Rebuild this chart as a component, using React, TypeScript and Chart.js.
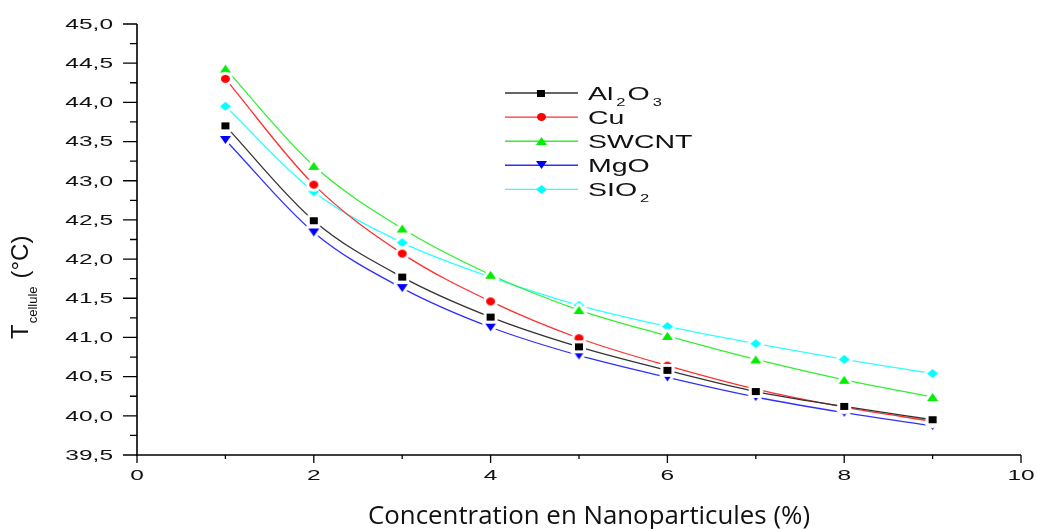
import React, { useEffect, useRef } from 'react';
import { Chart, registerables } from 'chart.js';

Chart.register(...registerables);

const concentrations = [1, 2, 3, 4, 5, 6, 7, 8, 9];
const al2o3 = [43.7, 42.49, 41.77, 41.26, 40.88, 40.58, 40.31, 40.12, 39.95];
const cu = [44.3, 42.95, 42.07, 41.46, 40.99, 40.64, 40.34, 40.11, 39.93];
const swcnt = [44.43, 43.19, 42.39, 41.8, 41.35, 41.02, 40.72, 40.46, 40.24];
const mgo = [43.52, 42.34, 41.63, 41.13, 40.77, 40.49, 40.24, 40.04, 39.87];
const sio2 = [43.95, 42.86, 42.21, 41.77, 41.41, 41.14, 40.92, 40.72, 40.54];

const seriesNames = ['Al2O3', 'Cu', 'SWCNT', 'MgO', 'SIO2'];
const seriesValues = [al2o3, cu, swcnt, mgo, sio2];
const markerColors = ['#000000', '#ff0000', '#00ee00', '#0000ff', '#00ffff'];
const lineColors = ['#333333', '#ff3030', '#30f030', '#3030ff', '#30ffff'];
const markerShapes = ['square', 'circle', 'triangle', 'triangleDown', 'diamond'];

const xTickLabels = ['0', '2', '4', '6', '8', '10'];
const xMinorTicks = [1, 3, 5, 7, 9];
const yTickLabels = ['39,5', '40,0', '40,5', '41,0', '41,5', '42,0', '42,5', '43,0', '43,5', '44,0', '44,5', '45,0'];
const yMinorTicks = [39.75, 40.25, 40.75, 41.25, 41.75, 42.25, 42.75, 43.25, 43.75, 44.25, 44.75];

const xTitle = 'Concentration en Nanoparticules (%)';
const yTitleMain = 'T';
const yTitleSub = 'cellule';
const yTitleUnit = '(°C)';

const SANS = '"Liberation Sans", Arial, sans-serif';

function makeMarker(shape: string, color: string, halo: boolean): HTMLCanvasElement {
  const dims: Record<string, [number, number]> = {
    square: [8, 7],
    circle: [9, 8],
    triangle: [11, 8],
    triangleDown: [11, 8],
    diamond: [11, 9],
  };
  const [w, h] = dims[shape];
  const pad = halo ? 4 : 1;
  const c = document.createElement('canvas');
  c.width = w + pad * 2;
  c.height = h + pad * 2;
  const ctx = c.getContext('2d')!;
  ctx.translate(c.width / 2, c.height / 2);
  const path = () => {
    ctx.beginPath();
    if (shape === 'square') {
      ctx.rect(-w / 2, -h / 2, w, h);
    } else if (shape === 'circle') {
      ctx.ellipse(0, 0, w / 2, h / 2, 0, 0, Math.PI * 2);
    } else if (shape === 'triangle') {
      ctx.moveTo(0, -h / 2);
      ctx.lineTo(w / 2, h / 2);
      ctx.lineTo(-w / 2, h / 2);
      ctx.closePath();
    } else if (shape === 'triangleDown') {
      ctx.moveTo(-w / 2, -h / 2);
      ctx.lineTo(w / 2, -h / 2);
      ctx.lineTo(0, h / 2);
      ctx.closePath();
    } else {
      ctx.moveTo(0, -h / 2);
      ctx.lineTo(w / 2, 0);
      ctx.lineTo(0, h / 2);
      ctx.lineTo(-w / 2, 0);
      ctx.closePath();
    }
  };
  if (halo) {
    path();
    ctx.strokeStyle = '#ffffff';
    ctx.lineWidth = 6;
    ctx.lineJoin = 'round';
    ctx.stroke();
  }
  path();
  ctx.fillStyle = color;
  ctx.fill();
  return c;
}

function stretchedText(ctx: CanvasRenderingContext2D, text: string, x: number, y: number, sx: number, align: CanvasTextAlign) {
  ctx.save();
  ctx.translate(x, y);
  ctx.scale(sx, 1);
  ctx.textAlign = align;
  ctx.fillText(text, 0, 0);
  ctx.restore();
}

export default function App() {
  const ref = useRef<HTMLCanvasElement | null>(null);

  useEffect(() => {
    document.body.style.margin = '0';
    const canvas = ref.current;
    if (!canvas) return;

    const dataMarkers = markerShapes.map((s, i) => makeMarker(s, markerColors[i], true));
    const legendMarkers = markerShapes.map((s, i) => makeMarker(s, markerColors[i], false));

    const decorations = {
      id: 'decorations',
      beforeDatasetsDraw(chart: any) {
        const ctx: CanvasRenderingContext2D = chart.ctx;
        const xs = chart.scales.x;
        const ys = chart.scales.y;
        const left = xs.getPixelForValue(0);
        const right = xs.getPixelForValue(10);
        const top = ys.getPixelForValue(45);
        const bottom = ys.getPixelForValue(39.5);
        ctx.save();
        ctx.strokeStyle = '#000';
        ctx.lineWidth = 1.6;
        ctx.beginPath();
        ctx.moveTo(left, top);
        ctx.lineTo(left, bottom);
        ctx.lineTo(right, bottom);
        ctx.stroke();

        ctx.lineWidth = 1.3;
        ctx.beginPath();
        yTickLabels.forEach((l) => {
          const py = ys.getPixelForValue(parseFloat(l.replace(',', '.')));
          ctx.moveTo(left, py);
          ctx.lineTo(left - 14, py);
        });
        yMinorTicks.forEach((v) => {
          const py = ys.getPixelForValue(v);
          ctx.moveTo(left, py);
          ctx.lineTo(left - 7, py);
        });
        xTickLabels.forEach((l) => {
          const px = xs.getPixelForValue(parseFloat(l));
          ctx.moveTo(px, bottom);
          ctx.lineTo(px, bottom + 8);
        });
        xMinorTicks.forEach((v) => {
          const px = xs.getPixelForValue(v);
          ctx.moveTo(px, bottom);
          ctx.lineTo(px, bottom + 4);
        });
        ctx.stroke();

        ctx.fillStyle = '#111';
        ctx.font = `15.5px ${SANS}`;
        ctx.textBaseline = 'middle';
        yTickLabels.forEach((l) => {
          const py = ys.getPixelForValue(parseFloat(l.replace(',', '.')));
          stretchedText(ctx, l, left - 24, py + 0.5, 1.58, 'right');
        });
        xTickLabels.forEach((l) => {
          const px = xs.getPixelForValue(parseFloat(l));
          stretchedText(ctx, l, px, bottom + 21, 1.58, 'center');
        });

        // x title
        ctx.textBaseline = 'alphabetic';
        ctx.font = `26px "Open Sans", sans-serif`;
        ctx.fillStyle = '#111';
        const tw = ctx.measureText(xTitle).width;
        stretchedText(ctx, xTitle, 589, 524, 442 / tw, 'center');

        // y title (rotated)
        ctx.save();
        ctx.translate(28, 339);
        ctx.rotate(-Math.PI / 2);
        ctx.textAlign = 'left';
        ctx.font = `24px ${SANS}`;
        ctx.fillText(yTitleMain, 0, 0);
        let cx = ctx.measureText(yTitleMain).width + 1;
        ctx.font = `13px ${SANS}`;
        ctx.fillText(yTitleSub, cx, 9);
        cx += ctx.measureText(yTitleSub).width + 8;
        ctx.font = `24px ${SANS}`;
        ctx.fillText(yTitleUnit, cx, 0);
        ctx.restore();
        ctx.restore();
      },
      afterDatasetsDraw(chart: any) {
        const ctx: CanvasRenderingContext2D = chart.ctx;
        ctx.save();
        seriesNames.forEach((name, i) => {
          const y = 93 + i * 24.1;
          ctx.strokeStyle = lineColors[i];
          ctx.lineWidth = 1.4;
          ctx.beginPath();
          ctx.moveTo(505, y);
          ctx.lineTo(578, y);
          ctx.stroke();
          const m = legendMarkers[i];
          ctx.drawImage(m, Math.round(541 - m.width / 2), Math.round(y - m.height / 2));
          ctx.fillStyle = '#111';
          ctx.textBaseline = 'alphabetic';
          let x = 588;
          const sx = 1.5;
          const parts = name.match(/\d+|\D+/g) || [];
          parts.forEach((p) => {
            const isSub = /^\d+$/.test(p);
            ctx.font = isSub ? `11px ${SANS}` : `19px ${SANS}`;
            const baseY = isSub ? y + 13 : y + 7;
            if (isSub) x += 3;
            stretchedText(ctx, p, x, baseY, sx, 'left');
            x += ctx.measureText(p).width * sx + (isSub ? 2 : 0);
          });
        });
        ctx.restore();
      },
    };

    const chart = new Chart(canvas, {
      type: 'line',
      data: {
        datasets: seriesNames.map((name, i) => ({
          label: name,
          data: concentrations.map((c, j) => ({ x: c, y: seriesValues[i][j] })),
          borderColor: lineColors[i],
          backgroundColor: markerColors[i],
          borderWidth: 1.3,
          cubicInterpolationMode: 'monotone' as const,
          pointStyle: dataMarkers[i] as any,
          pointRadius: 5,
          pointHoverRadius: 5,
          fill: false,
        })),
      },
      options: {
        responsive: false,
        animation: false,
        events: [],
        layout: { padding: { left: 137, right: 16, top: 24, bottom: 74 } },
        plugins: {
          legend: { display: false },
          tooltip: { enabled: false },
          title: { display: false },
        },
        scales: {
          x: { type: 'linear', min: 0, max: 10, display: false },
          y: { type: 'linear', min: 39.5, max: 45, display: false },
        },
      },
      plugins: [decorations],
    });

    return () => chart.destroy();
  }, []);

  return <canvas ref={ref} width={1037} height={529} style={{ display: 'block' }} />;
}
